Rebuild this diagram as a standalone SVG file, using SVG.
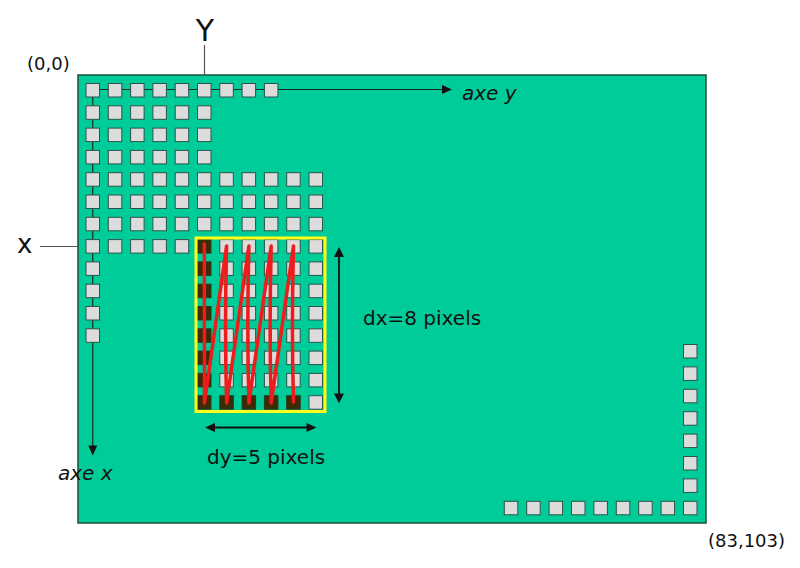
<svg xmlns="http://www.w3.org/2000/svg" width="800" height="568" viewBox="0 0 800 568">
<style>
.board{fill:#00cc99;stroke:#1d4d3e;stroke-width:1.5}
.px{fill:#dcdcdc;stroke:#2a5548;stroke-width:1}
.dk{fill:#3a2c05;stroke:#2a3a20;stroke-width:1}
.ax{stroke:#1a2a24;stroke-width:1.2;fill:none}
.ax2{stroke:#111;stroke-width:1.8;fill:none}
.gl{stroke:#555;stroke-width:1.2;fill:none}
.hd{fill:#111}
.t{font-family:"DejaVu Sans",sans-serif;fill:#111}
.it{font-family:"DejaVu Sans",sans-serif;font-style:italic;fill:#111}
</style>
<rect class="board" x="78" y="75" width="628" height="448"/>
<g id="connectors">
<line class="gl" x1="204.5" y1="45" x2="204.5" y2="75"/>
<line class="gl" x1="40" y1="246.5" x2="78" y2="246.5"/>
<line class="ax" x1="92.75" y1="89.5" x2="443" y2="89.5"/>
<polygon class="hd" points="452,89.5 442,85 442,94"/>
<line class="ax" x1="92.75" y1="90" x2="92.75" y2="447"/>
<polygon class="hd" points="92.75,455.5 88.25,445.5 97.25,445.5"/>
<line class="ax2" x1="339" y1="254" x2="339" y2="396"/>
<polygon class="hd" points="339,247 334,257 344,257"/>
<polygon class="hd" points="339,403.5 334,393.5 344,393.5"/>
<line class="ax2" x1="212" y1="427.5" x2="309" y2="427.5"/>
<polygon class="hd" points="205,427.5 215,423 215,432"/>
<polygon class="hd" points="316.5,427.5 306.5,423 306.5,432"/>
</g>
<g id="grid">
<rect class="px" x="86" y="83.5" width="13.5" height="13.5"/><rect class="px" x="108.3" y="83.5" width="13.5" height="13.5"/><rect class="px" x="130.6" y="83.5" width="13.5" height="13.5"/><rect class="px" x="152.9" y="83.5" width="13.5" height="13.5"/><rect class="px" x="175.2" y="83.5" width="13.5" height="13.5"/><rect class="px" x="197.5" y="83.5" width="13.5" height="13.5"/><rect class="px" x="219.8" y="83.5" width="13.5" height="13.5"/><rect class="px" x="242.1" y="83.5" width="13.5" height="13.5"/><rect class="px" x="264.4" y="83.5" width="13.5" height="13.5"/>
<rect class="px" x="86" y="105.8" width="13.5" height="13.5"/><rect class="px" x="108.3" y="105.8" width="13.5" height="13.5"/><rect class="px" x="130.6" y="105.8" width="13.5" height="13.5"/><rect class="px" x="152.9" y="105.8" width="13.5" height="13.5"/><rect class="px" x="175.2" y="105.8" width="13.5" height="13.5"/><rect class="px" x="197.5" y="105.8" width="13.5" height="13.5"/>
<rect class="px" x="86" y="128.1" width="13.5" height="13.5"/><rect class="px" x="108.3" y="128.1" width="13.5" height="13.5"/><rect class="px" x="130.6" y="128.1" width="13.5" height="13.5"/><rect class="px" x="152.9" y="128.1" width="13.5" height="13.5"/><rect class="px" x="175.2" y="128.1" width="13.5" height="13.5"/><rect class="px" x="197.5" y="128.1" width="13.5" height="13.5"/>
<rect class="px" x="86" y="150.4" width="13.5" height="13.5"/><rect class="px" x="108.3" y="150.4" width="13.5" height="13.5"/><rect class="px" x="130.6" y="150.4" width="13.5" height="13.5"/><rect class="px" x="152.9" y="150.4" width="13.5" height="13.5"/><rect class="px" x="175.2" y="150.4" width="13.5" height="13.5"/><rect class="px" x="197.5" y="150.4" width="13.5" height="13.5"/>
<rect class="px" x="86" y="172.7" width="13.5" height="13.5"/><rect class="px" x="108.3" y="172.7" width="13.5" height="13.5"/><rect class="px" x="130.6" y="172.7" width="13.5" height="13.5"/><rect class="px" x="152.9" y="172.7" width="13.5" height="13.5"/><rect class="px" x="175.2" y="172.7" width="13.5" height="13.5"/><rect class="px" x="197.5" y="172.7" width="13.5" height="13.5"/><rect class="px" x="219.8" y="172.7" width="13.5" height="13.5"/><rect class="px" x="242.1" y="172.7" width="13.5" height="13.5"/><rect class="px" x="264.4" y="172.7" width="13.5" height="13.5"/><rect class="px" x="286.7" y="172.7" width="13.5" height="13.5"/><rect class="px" x="309" y="172.7" width="13.5" height="13.5"/>
<rect class="px" x="86" y="195" width="13.5" height="13.5"/><rect class="px" x="108.3" y="195" width="13.5" height="13.5"/><rect class="px" x="130.6" y="195" width="13.5" height="13.5"/><rect class="px" x="152.9" y="195" width="13.5" height="13.5"/><rect class="px" x="175.2" y="195" width="13.5" height="13.5"/><rect class="px" x="197.5" y="195" width="13.5" height="13.5"/><rect class="px" x="219.8" y="195" width="13.5" height="13.5"/><rect class="px" x="242.1" y="195" width="13.5" height="13.5"/><rect class="px" x="264.4" y="195" width="13.5" height="13.5"/><rect class="px" x="286.7" y="195" width="13.5" height="13.5"/><rect class="px" x="309" y="195" width="13.5" height="13.5"/>
<rect class="px" x="86" y="217.3" width="13.5" height="13.5"/><rect class="px" x="108.3" y="217.3" width="13.5" height="13.5"/><rect class="px" x="130.6" y="217.3" width="13.5" height="13.5"/><rect class="px" x="152.9" y="217.3" width="13.5" height="13.5"/><rect class="px" x="175.2" y="217.3" width="13.5" height="13.5"/><rect class="px" x="197.5" y="217.3" width="13.5" height="13.5"/><rect class="px" x="219.8" y="217.3" width="13.5" height="13.5"/><rect class="px" x="242.1" y="217.3" width="13.5" height="13.5"/><rect class="px" x="264.4" y="217.3" width="13.5" height="13.5"/><rect class="px" x="286.7" y="217.3" width="13.5" height="13.5"/><rect class="px" x="309" y="217.3" width="13.5" height="13.5"/>
<rect class="px" x="86" y="239.6" width="13.5" height="13.5"/><rect class="px" x="108.3" y="239.6" width="13.5" height="13.5"/><rect class="px" x="130.6" y="239.6" width="13.5" height="13.5"/><rect class="px" x="152.9" y="239.6" width="13.5" height="13.5"/><rect class="px" x="175.2" y="239.6" width="13.5" height="13.5"/>
<rect class="px" x="86" y="261.9" width="13.5" height="13.5"/>
<rect class="px" x="86" y="284.2" width="13.5" height="13.5"/>
<rect class="px" x="86" y="306.5" width="13.5" height="13.5"/>
<rect class="px" x="86" y="328.8" width="13.5" height="13.5"/>
</g>
<g id="window">
<rect class="dk" x="197.5" y="239.6" width="13.5" height="13.5"/><rect class="px" x="219.8" y="239.6" width="13.5" height="13.5"/><rect class="px" x="242.1" y="239.6" width="13.5" height="13.5"/><rect class="px" x="264.4" y="239.6" width="13.5" height="13.5"/><rect class="px" x="286.7" y="239.6" width="13.5" height="13.5"/><rect class="px" x="309" y="239.6" width="13.5" height="13.5"/>
<rect class="dk" x="197.5" y="261.9" width="13.5" height="13.5"/><rect class="px" x="219.8" y="261.9" width="13.5" height="13.5"/><rect class="px" x="242.1" y="261.9" width="13.5" height="13.5"/><rect class="px" x="264.4" y="261.9" width="13.5" height="13.5"/><rect class="px" x="286.7" y="261.9" width="13.5" height="13.5"/><rect class="px" x="309" y="261.9" width="13.5" height="13.5"/>
<rect class="dk" x="197.5" y="284.2" width="13.5" height="13.5"/><rect class="px" x="219.8" y="284.2" width="13.5" height="13.5"/><rect class="px" x="242.1" y="284.2" width="13.5" height="13.5"/><rect class="px" x="264.4" y="284.2" width="13.5" height="13.5"/><rect class="px" x="286.7" y="284.2" width="13.5" height="13.5"/><rect class="px" x="309" y="284.2" width="13.5" height="13.5"/>
<rect class="dk" x="197.5" y="306.5" width="13.5" height="13.5"/><rect class="px" x="219.8" y="306.5" width="13.5" height="13.5"/><rect class="px" x="242.1" y="306.5" width="13.5" height="13.5"/><rect class="px" x="264.4" y="306.5" width="13.5" height="13.5"/><rect class="px" x="286.7" y="306.5" width="13.5" height="13.5"/><rect class="px" x="309" y="306.5" width="13.5" height="13.5"/>
<rect class="dk" x="197.5" y="328.8" width="13.5" height="13.5"/><rect class="px" x="219.8" y="328.8" width="13.5" height="13.5"/><rect class="px" x="242.1" y="328.8" width="13.5" height="13.5"/><rect class="px" x="264.4" y="328.8" width="13.5" height="13.5"/><rect class="px" x="286.7" y="328.8" width="13.5" height="13.5"/><rect class="px" x="309" y="328.8" width="13.5" height="13.5"/>
<rect class="dk" x="197.5" y="351.1" width="13.5" height="13.5"/><rect class="px" x="219.8" y="351.1" width="13.5" height="13.5"/><rect class="px" x="242.1" y="351.1" width="13.5" height="13.5"/><rect class="px" x="264.4" y="351.1" width="13.5" height="13.5"/><rect class="px" x="286.7" y="351.1" width="13.5" height="13.5"/><rect class="px" x="309" y="351.1" width="13.5" height="13.5"/>
<rect class="dk" x="197.5" y="373.4" width="13.5" height="13.5"/><rect class="px" x="219.8" y="373.4" width="13.5" height="13.5"/><rect class="px" x="242.1" y="373.4" width="13.5" height="13.5"/><rect class="px" x="264.4" y="373.4" width="13.5" height="13.5"/><rect class="px" x="286.7" y="373.4" width="13.5" height="13.5"/><rect class="px" x="309" y="373.4" width="13.5" height="13.5"/>
<rect class="dk" x="197.5" y="395.7" width="13.5" height="13.5"/><rect class="dk" x="219.8" y="395.7" width="13.5" height="13.5"/><rect class="dk" x="242.1" y="395.7" width="13.5" height="13.5"/><rect class="dk" x="264.4" y="395.7" width="13.5" height="13.5"/><rect class="dk" x="286.7" y="395.7" width="13.5" height="13.5"/><rect class="px" x="309" y="395.7" width="13.5" height="13.5"/>
<rect x="196" y="238" width="129" height="173.5" fill="none" stroke="#ffff1a" stroke-width="3"/>
<path d="M204.3,244 L204.5,403 L226.6,246 Q224.5,330 226.6,403 L248.9,246 Q246.8,330 248.9,403 L271.2,246 Q269.1,330 271.2,403 L293.5,246 Q291.4,330 293.5,402" fill="none" stroke="#ee1c1c" stroke-width="3.5" stroke-linejoin="round" stroke-linecap="round"/>
</g>
<g id="corner">
<rect class="px" x="683.5" y="344.5" width="13.5" height="13.5"/><rect class="px" x="683.5" y="366.9" width="13.5" height="13.5"/><rect class="px" x="683.5" y="389.3" width="13.5" height="13.5"/><rect class="px" x="683.5" y="411.7" width="13.5" height="13.5"/><rect class="px" x="683.5" y="434.1" width="13.5" height="13.5"/><rect class="px" x="683.5" y="456.5" width="13.5" height="13.5"/><rect class="px" x="683.5" y="478.9" width="13.5" height="13.5"/><rect class="px" x="683.5" y="501.3" width="13.5" height="13.5"/>
<rect class="px" x="661.1" y="501.3" width="13.5" height="13.5"/><rect class="px" x="638.7" y="501.3" width="13.5" height="13.5"/><rect class="px" x="616.3" y="501.3" width="13.5" height="13.5"/><rect class="px" x="593.9" y="501.3" width="13.5" height="13.5"/><rect class="px" x="571.5" y="501.3" width="13.5" height="13.5"/><rect class="px" x="549.1" y="501.3" width="13.5" height="13.5"/><rect class="px" x="526.7" y="501.3" width="13.5" height="13.5"/><rect class="px" x="504.3" y="501.3" width="13.5" height="13.5"/>
</g>
<g id="labels">
<text class="t" x="205" y="40.5" font-size="30" text-anchor="middle">Y</text>
<text class="t" x="17" y="253" font-size="26">x</text>
<text class="t" x="27" y="69.5" font-size="18">(0,0)</text>
<text class="t" x="708" y="547" font-size="18">(83,103)</text>
<text class="it" x="462" y="100" font-size="20">axe y</text>
<text class="it" x="58" y="480" font-size="20">axe x</text>
<text class="t" x="363" y="325" font-size="20">dx=8 pixels</text>
<text class="t" x="207" y="464" font-size="20">dy=5 pixels</text>
</g>
</svg>
